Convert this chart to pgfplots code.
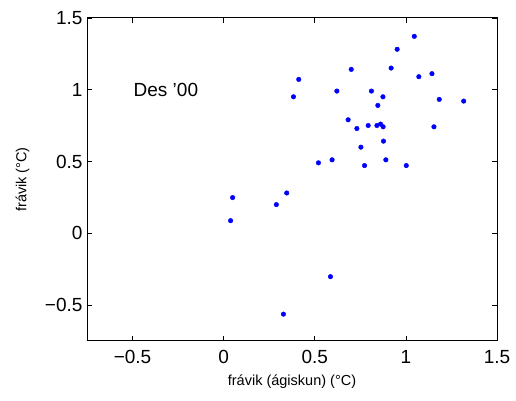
\documentclass[border=0pt]{standalone}
\usepackage{fontspec}
\setmainfont{Liberation Sans}
\usepackage{pgfplots}
\pgfplotsset{compat=1.18}
\begin{document}
\begin{tikzpicture}
\begin{axis}[
  scale only axis,
  width=410pt, height=323pt,
  xmin=-0.75, xmax=1.5, ymin=-0.75, ymax=1.5,
  xtick={-0.5,0,0.5,1,1.5},
  xticklabels={−0.5,0,0.5,1,1.5},
  ytick={-0.5,0,0.5,1,1.5},
  yticklabels={−0.5,0,0.5,1,1.5},
  tick align=inside,
  xtick pos=both, ytick pos=both,
  major tick length=5pt,
  axis line style={line width=1pt},
  every tick/.style={black, line width=0.8pt},
  tick label style={font=\fontsize{19}{22}\selectfont},
  xticklabel style={yshift=-6pt},
  yticklabel style={xshift=-1pt},
  clip=false,
]
\addplot[only marks, mark=*, mark size=2.3pt, color={rgb,255:red,0;green,0;blue,255}] coordinates {
(1.046,1.372) (0.952,1.282) (0.700,1.142) (0.919,1.151) (0.412,1.072)
(1.071,1.091) (1.143,1.112) (0.621,0.991) (0.811,0.991) (0.383,0.951)
(0.874,0.951) (1.183,0.933) (1.317,0.921) (0.846,0.891) (0.683,0.791)
(0.731,0.730) (0.793,0.751) (0.841,0.751) (0.861,0.761) (0.875,0.742)
(1.154,0.742) (0.753,0.600) (0.877,0.642) (0.520,0.491) (0.595,0.512)
(0.773,0.472) (0.890,0.512) (1.002,0.472) (0.346,0.281)
(0.049,0.249) (0.038,0.088) (0.289,0.200) (0.586,-0.302) (0.328,-0.563)
};
\node[anchor=west, font=\fontsize{19}{22}\selectfont, inner sep=0pt] at (axis cs:-0.495,1.0) {Des ’00};
\node[font=\fontsize{14.5}{17}\selectfont] at (rel axis cs:0.5,-0.127) {frávik (ágiskun) (°C)};
\node[font=\fontsize{14.5}{17}\selectfont, rotate=90] at (rel axis cs:-0.157,0.5) {frávik (°C)};
\path (rel axis cs:-0.2122,-0.1827) rectangle (rel axis cs:1.0463,1.0557);
\end{axis}
\end{tikzpicture}
\end{document}
